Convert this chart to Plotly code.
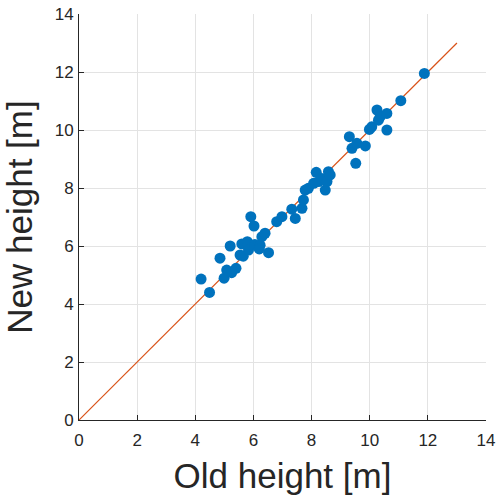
import plotly.graph_objects as go

old_height = [4.20, 4.49, 4.85, 4.99, 5.08, 5.20, 5.25, 5.40, 5.54, 5.60, 5.65, 5.79,
              5.83, 5.91, 6.02, 6.05, 6.17, 6.23, 6.20, 6.29, 6.40, 6.52, 6.80, 6.98,
              7.32, 7.44, 7.67, 7.72, 7.78, 7.89, 8.07, 8.16, 8.24, 8.35, 8.47, 8.53,
              8.58, 8.64, 9.30, 9.39, 9.56, 9.52, 9.85, 9.99, 10.07, 10.25, 10.30, 10.36,
              10.59, 10.59, 11.07, 11.88]
new_height = [4.86, 4.40, 5.58, 4.89, 5.17, 6.00, 5.08, 5.23, 5.69, 6.07, 5.65, 6.15,
              5.86, 7.01, 6.69, 6.05, 5.98, 6.03, 5.90, 6.32, 6.44, 5.77, 6.84, 7.01,
              7.27, 6.95, 7.30, 7.59, 7.93, 7.99, 8.16, 8.54, 8.22, 8.33, 7.93, 8.22,
              8.56, 8.45, 9.77, 9.37, 9.54, 8.85, 9.45, 10.02, 10.11, 10.69, 10.34, 10.46,
              10.57, 10.00, 11.01, 11.95]
line_ends = [0, 13]
ticks = [0, 2, 4, 6, 8, 10, 12, 14]

fig = go.Figure()
fig.add_trace(go.Scatter(x=line_ends, y=line_ends, mode="lines",
                         line=dict(color="#D95319", width=1.2), showlegend=False))
fig.add_trace(go.Scatter(x=old_height, y=new_height, mode="markers",
                         marker=dict(color="#0072BD", size=11), showlegend=False))

axis_common = dict(range=[0, 14], tickvals=ticks, ticks="inside", ticklen=5,
                   tickcolor="#262626", showline=True, linecolor="#262626", linewidth=1,
                   showgrid=True, gridcolor="#e3e3e3", gridwidth=1, zeroline=False,
                   tickfont=dict(family="Liberation Sans, Arial", size=17, color="#262626"),
                   mirror=False, automargin=False)
fig.update_layout(
    width=497, height=500,
    margin=dict(l=79, r=11, t=14, b=80),
    paper_bgcolor="white", plot_bgcolor="white",
    xaxis=dict(**axis_common, ticklabelstandoff=5,
               title=dict(text="Old height [m]", standoff=14,
                          font=dict(family="Liberation Sans, Arial", size=35, color="#262626"))),
    yaxis=dict(**axis_common, ticklabelstandoff=1,
               title=dict(text="New height [m]", standoff=12,
                          font=dict(family="Liberation Sans, Arial", size=35, color="#262626"))),
)
fig.write_html("out.html")
